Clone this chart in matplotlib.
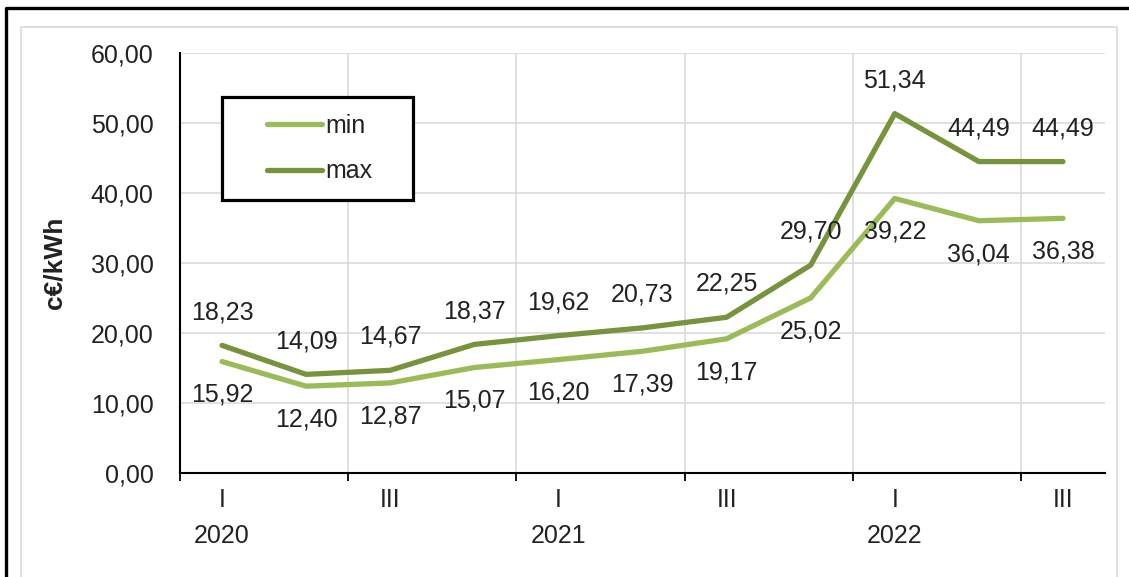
import matplotlib
matplotlib.use("Agg")
import matplotlib.pyplot as plt
from matplotlib.lines import Line2D
from matplotlib.patches import Rectangle
from matplotlib.ticker import FuncFormatter, MultipleLocator

plt.rcParams['font.family'] = ['Liberation Sans', 'DejaVu Sans']

quarters = ["I", "II", "III", "IV", "I", "II", "III", "IV", "I", "II", "III"]
years = ["2020", "", "", "", "2021", "", "", "", "2022", "", ""]
price_min = [15.92, 12.40, 12.87, 15.07, 16.20, 17.39, 19.17, 25.02, 39.22, 36.04, 36.38]
price_max = [18.23, 14.09, 14.67, 18.37, 19.62, 20.73, 22.25, 29.70, 51.34, 44.49, 44.49]

c_min = '#9BBB59'
c_max = '#77933C'
txt = '#222222'
fs = 18


def fmt(v):
    return f"{v:.2f}".replace('.', ',')


fig = plt.figure(figsize=(11.29, 5.77), dpi=100)
ax = fig.add_axes([180 / 1129, 1 - 473 / 577, 925 / 1129, 420 / 577])

x = list(range(len(quarters)))
ax.plot(x, price_min, color=c_min, lw=3.8, solid_capstyle='round',
        solid_joinstyle='round', label='min', zorder=3)
ax.plot(x, price_max, color=c_max, lw=3.8, solid_capstyle='round',
        solid_joinstyle='round', label='max', zorder=3)

for xi, v in zip(x, price_max):
    ax.annotate(fmt(v), (xi, v), xytext=(0, 24), textcoords='offset points',
                ha='center', va='center', fontsize=fs, color=txt)
for xi, v in zip(x, price_min):
    ax.annotate(fmt(v), (xi, v), xytext=(0, -24), textcoords='offset points',
                ha='center', va='center', fontsize=fs, color=txt)

ax.set_xlim(-0.5, 10.5)
ax.set_ylim(0, 60)
ax.yaxis.set_major_locator(MultipleLocator(10))
ax.yaxis.set_major_formatter(FuncFormatter(lambda v, p: fmt(v)))

# quarter labels at the points, tick marks between the half-years
show = [i for i in x if i % 2 == 0]
ax.set_xticks(show)
ax.set_xticklabels([quarters[i] + "\n" + years[i] for i in show], linespacing=1.63)
ax.set_xticks([-0.5, 1.5, 3.5, 5.5, 7.5, 9.5], minor=True)
ax.tick_params(axis='x', which='major', length=0, pad=10.5, labelsize=fs, labelcolor=txt)
ax.tick_params(axis='x', which='minor', length=6, width=1.3, color='black', direction='out')
ax.tick_params(axis='y', length=0, pad=19, labelsize=fs, labelcolor=txt)

ax.grid(axis='y', which='major', color='#D9D9D9', lw=1.1)
ax.grid(axis='x', which='minor', color='#D9D9D9', lw=1.1)
ax.set_axisbelow(True)

for s in ['top', 'right']:
    ax.spines[s].set_visible(False)
for s in ['left', 'bottom']:
    ax.spines[s].set_color('black')
    ax.spines[s].set_linewidth(1.5)

ax.set_ylabel("c€/kWh", fontsize=19, fontweight='bold', color=txt)
ax.yaxis.set_label_coords(-0.123, 0.5)

# legend box
ax.add_patch(Rectangle((0.0454, 0.65), 0.2065, 0.245, transform=ax.transAxes,
                       facecolor='white', edgecolor='black', lw=2.3, zorder=5))
leg = ax.legend(loc='center left', bbox_to_anchor=(0.094, 0.772), frameon=False,
                borderpad=0, borderaxespad=0, handlelength=2.2, handletextpad=0.12,
                labelspacing=0.85, fontsize=fs)
leg.set_zorder(6)
for t in leg.get_texts():
    t.set_color(txt)

# outer frames
fig.add_artist(Line2D([21 / 1129, 21 / 1129, 1117 / 1129, 1117 / 1129],
                      [0, 1 - 27 / 577, 1 - 27 / 577, 0],
                      transform=fig.transFigure, color='#D9D9D9', lw=1.2))
fig.add_artist(Line2D([6 / 1129, 6 / 1129, 1.0], [0, 1 - 8 / 577, 1 - 8 / 577],
                      transform=fig.transFigure, color='black', lw=2.4))

fig.savefig("out.png", dpi=100)
